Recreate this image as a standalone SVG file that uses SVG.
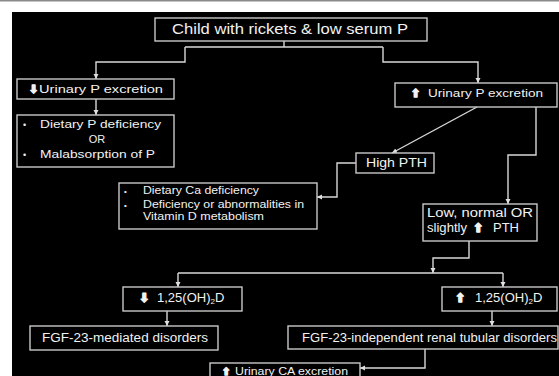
<svg xmlns="http://www.w3.org/2000/svg" width="559" height="376" viewBox="0 0 559 376">
<defs>
<style>
.box{fill:none;stroke:#c8c8c8;stroke-width:1.4}
.ln{fill:none;stroke:#d8d8d8;stroke-width:1.4}
text{fill:#f2f2f2;font-family:"Liberation Sans",Arial,sans-serif}
.ar{font-family:"DejaVu Sans",sans-serif;font-weight:bold;stroke:#f2f2f2;stroke-width:1.3;stroke-linejoin:round}
</style>
<marker id="ah" markerWidth="6" markerHeight="6" refX="5" refY="3" orient="auto" markerUnits="userSpaceOnUse">
<path d="M0,0.5 L5,3 L0,5.5 Z" fill="#e0e0e0"/>
</marker>
</defs>
<rect x="0" y="0" width="559" height="376" fill="#ffffff"/>
<rect x="0" y="0" width="559" height="1.5" fill="#8a8a8a"/>
<rect x="12" y="12" width="547" height="364" fill="#000000"/>

<g id="connectors">
<path class="ln" d="M284,41 V47"/>
<path class="ln" d="M185,47 H383"/>
<path class="ln" d="M185,47 V62 H96 V79" marker-end="url(#ah)"/>
<path class="ln" d="M383,47 V62 H478 V83" marker-end="url(#ah)"/>
<path class="ln" d="M96,99 V115" marker-end="url(#ah)"/>
<path class="ln" d="M477,107 L392,153" marker-end="url(#ah)"/>
<path class="ln" d="M536,107 V155 H508 V204" marker-end="url(#ah)"/>
<path class="ln" d="M356,163 H337 V197 H317" marker-end="url(#ah)"/>
<path class="ln" d="M469,241 V258 H433 V273" marker-end="url(#ah)"/>
<path class="ln" d="M178,273 H503"/>
<path class="ln" d="M178,273 V287" marker-end="url(#ah)"/>
<path class="ln" d="M503,273 V287" marker-end="url(#ah)"/>
<path class="ln" d="M167,311 V326" marker-end="url(#ah)"/>
<path class="ln" d="M492,311 V326" marker-end="url(#ah)"/>
<path class="ln" d="M425,349 V368 H360" marker-end="url(#ah)"/>
</g>

<g id="n-top">
<rect class="box" x="155" y="18" width="272" height="23"/>
<text x="172" y="34" font-size="14" textLength="236" lengthAdjust="spacingAndGlyphs">Child with rickets &amp; low serum P</text>
</g>

<g id="n-low-urinary">
<rect class="box" x="17" y="79" width="157" height="20"/>
<text class="ar" x="29" y="93" font-size="11">⬇</text>
<text x="39" y="93" font-size="11" textLength="124" lengthAdjust="spacingAndGlyphs">Urinary P excretion</text>
</g>

<g id="n-dietary-p">
<rect class="box" x="17" y="115" width="157" height="52"/>
<text x="23" y="128" font-size="9">•</text>
<text x="40" y="128" font-size="11" textLength="121" lengthAdjust="spacingAndGlyphs">Dietary P deficiency</text>
<text x="97" y="143" font-size="11" text-anchor="middle">OR</text>
<text x="23" y="158" font-size="9">•</text>
<text x="40" y="158" font-size="11" textLength="115" lengthAdjust="spacingAndGlyphs">Malabsorption of P</text>
</g>

<g id="n-high-urinary">
<rect class="box" x="395" y="83" width="162" height="24"/>
<text class="ar" x="411" y="97" font-size="11">⬆</text>
<text x="428" y="97" font-size="11" textLength="115" lengthAdjust="spacingAndGlyphs">Urinary P excretion</text>
</g>

<g id="n-high-pth">
<rect class="box" x="356" y="153" width="78" height="20"/>
<text x="366" y="167" font-size="12" textLength="61" lengthAdjust="spacingAndGlyphs">High PTH</text>
</g>

<g id="n-ca">
<rect class="box" x="119" y="183" width="198" height="46"/>
<text x="124" y="194" font-size="8">•</text>
<text x="143" y="194" font-size="10" textLength="116" lengthAdjust="spacingAndGlyphs">Dietary Ca deficiency</text>
<text x="124" y="208" font-size="8">•</text>
<text x="143" y="208" font-size="10" textLength="161" lengthAdjust="spacingAndGlyphs">Deficiency or abnormalities in</text>
<text x="143" y="220" font-size="10" textLength="121" lengthAdjust="spacingAndGlyphs">Vitamin D metabolism</text>
</g>

<g id="n-low-pth">
<rect class="box" x="423" y="204" width="114" height="37"/>
<text x="427" y="217" font-size="12" textLength="106" lengthAdjust="spacingAndGlyphs">Low, normal OR</text>
<text x="427" y="232" font-size="12" textLength="40" lengthAdjust="spacingAndGlyphs">slightly</text>
<text class="ar" x="473" y="232" font-size="12">⬆</text>
<text x="493" y="232" font-size="12" textLength="26" lengthAdjust="spacingAndGlyphs">PTH</text>
</g>

<g id="n-low-vitd">
<rect class="box" x="123" y="287" width="119" height="24"/>
<text class="ar" x="139" y="302" font-size="12">⬇</text>
<text x="157" y="302" font-size="13">1,25(OH)<tspan font-size="8" dy="2">2</tspan><tspan dy="-2">D</tspan></text>
</g>

<g id="n-high-vitd">
<rect class="box" x="442" y="287" width="115" height="24"/>
<text class="ar" x="455" y="302" font-size="12">⬆</text>
<text x="475" y="302" font-size="13">1,25(OH)<tspan font-size="8" dy="2">2</tspan><tspan dy="-2">D</tspan></text>
</g>

<g id="n-fgf-mediated">
<rect class="box" x="30" y="326" width="188" height="24"/>
<text x="42" y="342" font-size="12" textLength="166" lengthAdjust="spacingAndGlyphs">FGF-23-mediated disorders</text>
</g>

<g id="n-fgf-independent">
<rect class="box" x="288" y="326" width="270" height="23"/>
<text x="302" y="342" font-size="12" textLength="255" lengthAdjust="spacingAndGlyphs">FGF-23-independent renal tubular disorders</text>
</g>

<g id="n-urinary-ca">
<rect class="box" x="210" y="363" width="150" height="20"/>
<text class="ar" x="222" y="375" font-size="10">⬆</text>
<text x="235" y="375" font-size="10" textLength="113" lengthAdjust="spacingAndGlyphs">Urinary CA excretion</text>
</g>
</svg>
